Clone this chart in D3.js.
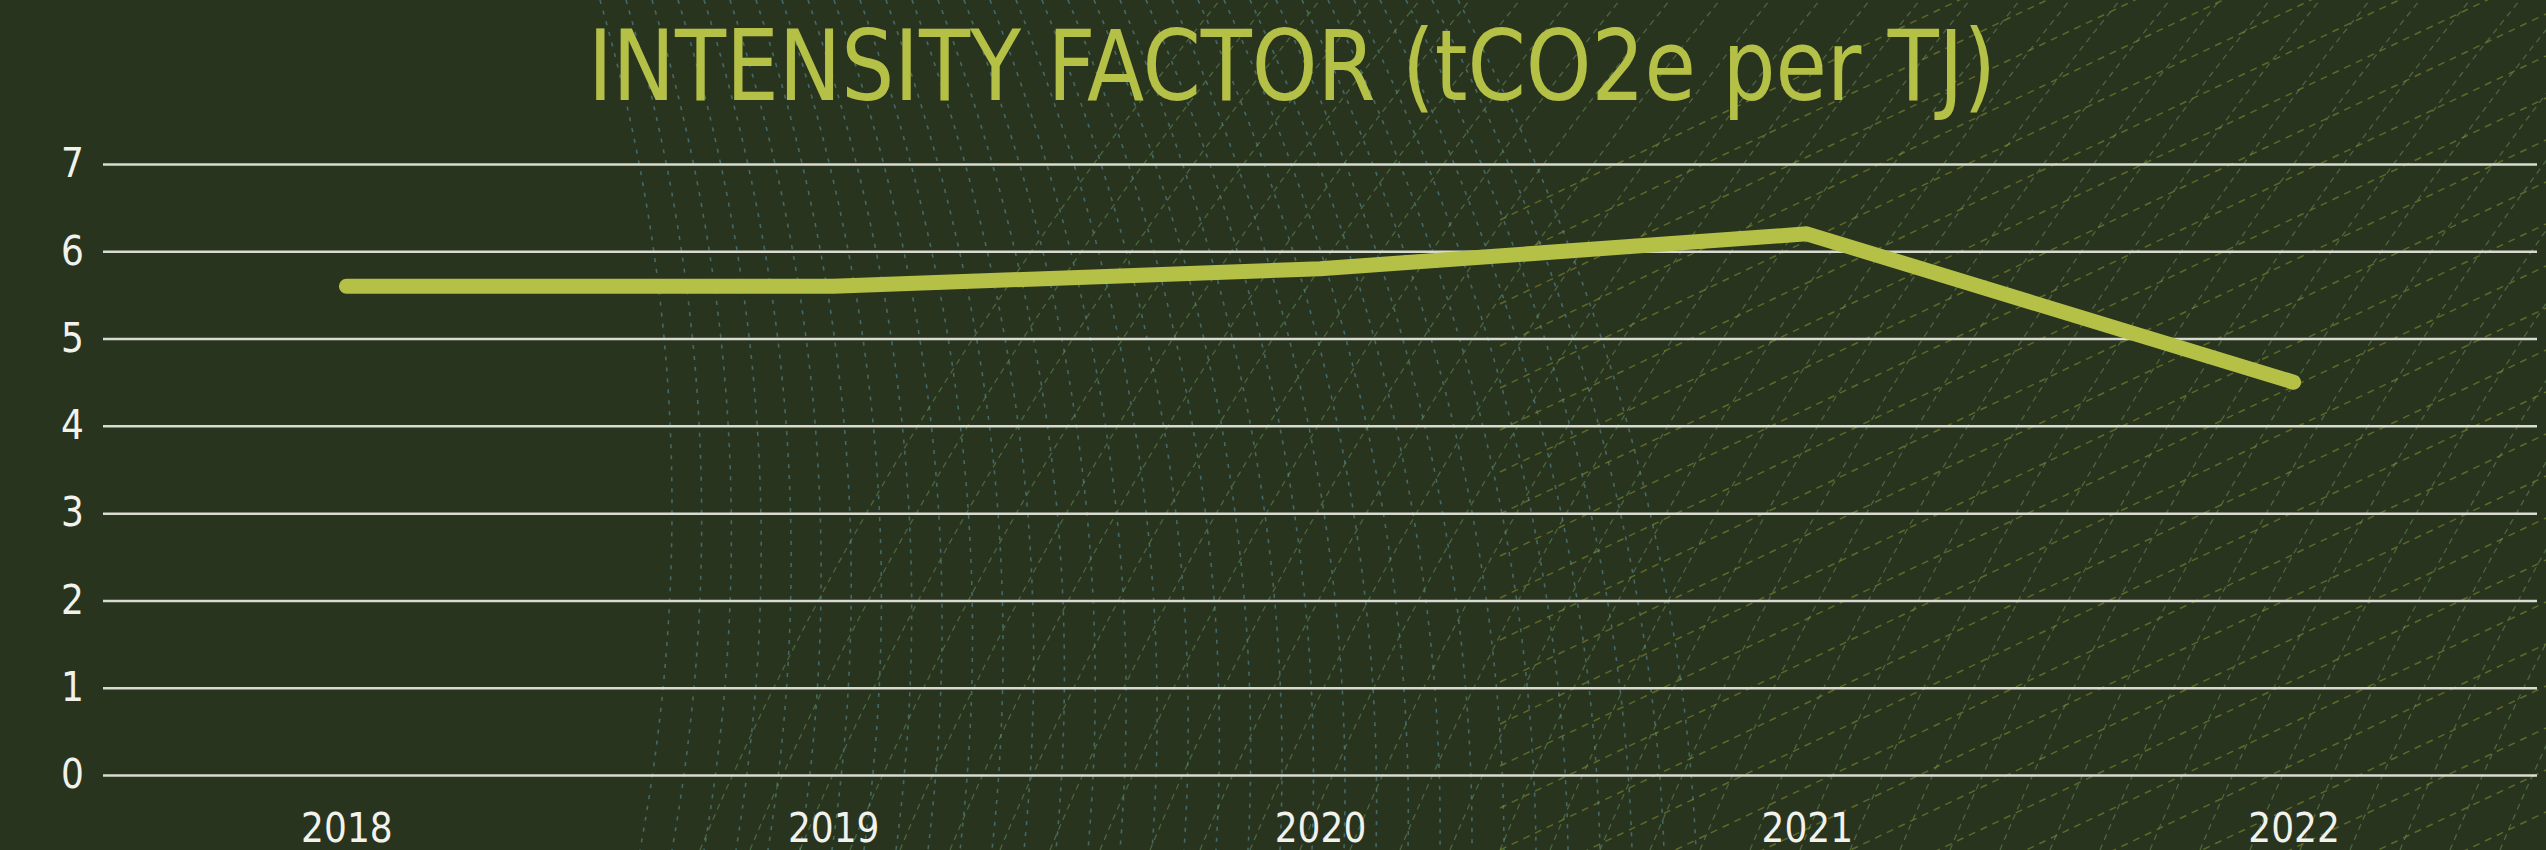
<!DOCTYPE html>
<html>
<head>
<meta charset="utf-8">
<script src="https://cdn.jsdelivr.net/npm/d3@7"></script>
<style>
  html, body { margin: 0; padding: 0; background: #29341f; }
  svg { display: block; }
</style>
</head>
<body>
<svg id="chart" width="2546" height="850"></svg>
<script>
// Emission intensity per year
const years = ["2018", "2019", "2020", "2021", "2022"];
const intensity = [5.6, 5.6, 5.8, 6.2, 4.5];
const yTicks = [0, 1, 2, 3, 4, 5, 6, 7];
const titleText = "INTENSITY FACTOR (tCO2e per TJ)";

const W = 2546, H = 850;
const margin = { top: 164, right: 9, bottom: 75, left: 103 };
const labelFont = "'DejaVu Sans Condensed', 'Liberation Sans Narrow', sans-serif";
const svg = d3.select("#chart");

svg.append("rect").attr("width", W).attr("height", H).attr("fill", "#29341f");

// Decorative dashed texture behind the chart
const deco = svg.append("g").attr("fill", "none");
d3.range(0, 34).forEach(i => {
  const x0 = 600 + i * 26;
  deco.append("path")
    .attr("d", `M${x0},0 Q${x0 + 120 + i * 3},${420} ${x0 + 40 + i * 6},${850}`)
    .attr("stroke", "#4f8088").attr("stroke-width", 1.6)
    .attr("stroke-dasharray", "4,7").attr("opacity", 0.7);
});
d3.range(0, 40).forEach(i => {
  const x0 = 700 + i * 50;
  deco.append("path")
    .attr("d", `M${x0},850 Q${x0 + 180},${420} ${x0 + 520},0`)
    .attr("stroke", "#6e9a62").attr("stroke-width", 1.3)
    .attr("stroke-dasharray", "6,5").attr("opacity", 0.5);
});
d3.range(0, 34).forEach(i => {
  const y0 = -200 + i * 42;
  deco.append("path")
    .attr("d", `M1500,${y0 + 420} Q2000,${y0 + 180} 2546,${y0 - 80}`)
    .attr("stroke", "#8a9530").attr("stroke-width", 1.5)
    .attr("stroke-dasharray", "7,6").attr("opacity", 0.55);
});

const x = d3.scalePoint()
  .domain(years)
  .range([margin.left, W - margin.right])
  .padding(0.5);

const y = d3.scaleLinear()
  .domain([0, 7])
  .range([H - margin.bottom, margin.top]);

// Horizontal gridlines with value labels
const yAxis = d3.axisLeft(y)
  .tickValues(yTicks)
  .tickSize(-(W - margin.left - margin.right))
  .tickPadding(19)
  .tickFormat(d3.format("d"));

const gy = svg.append("g")
  .attr("transform", `translate(${margin.left},0)`)
  .call(yAxis);
gy.select(".domain").remove();
gy.selectAll(".tick line")
  .attr("stroke", "#d9dbd2").attr("stroke-width", 2.5);
gy.selectAll(".tick text")
  .attr("fill", "#f2f2ec")
  .attr("font-family", labelFont)
  .attr("font-size", 40);

// Year labels
const xAxis = d3.axisBottom(x).tickSize(0).tickPadding(0);
const gx = svg.append("g")
  .attr("transform", `translate(0,${H - margin.bottom})`)
  .call(xAxis);
gx.select(".domain").remove();
gx.selectAll(".tick text")
  .attr("fill", "#f2f2ec")
  .attr("font-family", labelFont)
  .attr("font-size", 40)
  .attr("dy", 0)
  .attr("y", 67);

// Intensity line
const line = d3.line()
  .x((d, i) => x(years[i]))
  .y(d => y(d));

svg.append("path")
  .datum(intensity)
  .attr("d", line)
  .attr("fill", "none")
  .attr("stroke", "#b5c047")
  .attr("stroke-width", 15)
  .attr("stroke-linecap", "round")
  .attr("stroke-linejoin", "round");

// Title
svg.append("text")
  .attr("x", 1292)
  .attr("y", 100)
  .attr("text-anchor", "middle")
  .attr("fill", "#b5c047")
  .attr("font-family", labelFont)
  .attr("font-size", 98)
  .attr("textLength", 1408)
  .attr("lengthAdjust", "spacingAndGlyphs")
  .text(titleText);
</script>
</body>
</html>
